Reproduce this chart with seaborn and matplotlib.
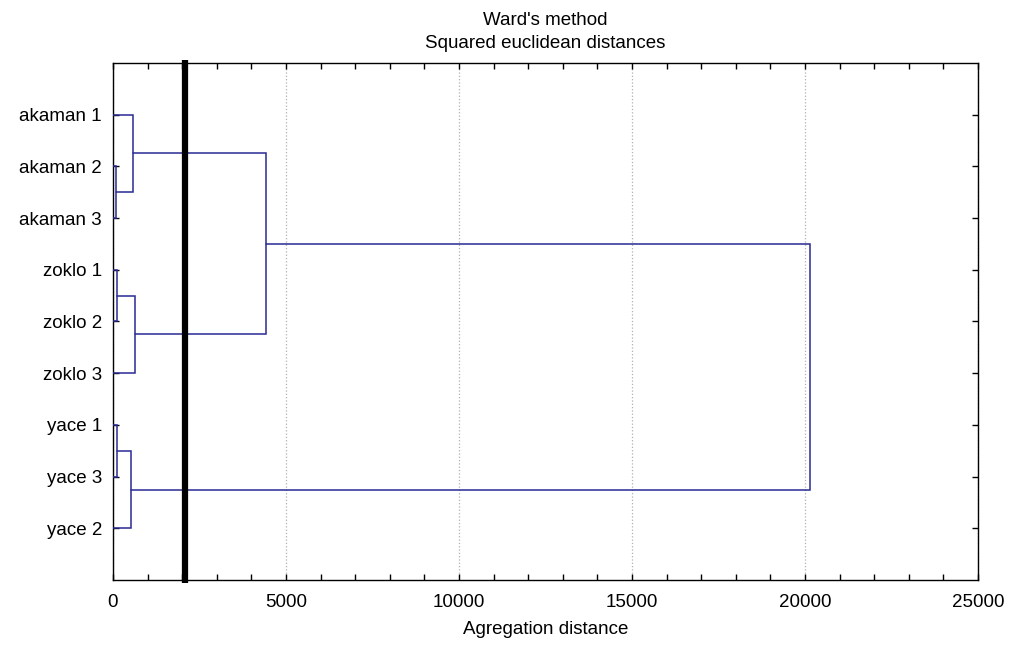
import numpy as np
import matplotlib
matplotlib.use("Agg")
import matplotlib.pyplot as plt
import seaborn as sns

# ---- data ----
leaves = ["akaman 1", "akaman 2", "akaman 3", "zoklo 1", "zoklo 2",
          "zoklo 3", "yace 1", "yace 3", "yace 2"]
# merges: (left node, right node, distance); nodes 0..8 are leaves in order, 9+ are clusters
merge_left = [1, 0, 3, 11, 10, 6, 14, 13]
merge_right = [2, 9, 4, 5, 12, 7, 8, 15]
merge_dist = [90, 590, 125, 640, 4410, 125, 510, 20150]
cut_distance = 2080
x_ticks = [0, 5000, 10000, 15000, 20000, 25000]

sns.set_style("white")
plt.rcParams['font.family'] = ['Liberation Sans', 'DejaVu Sans']
plt.rcParams['text.color'] = 'black'
plt.rcParams['axes.labelcolor'] = 'black'
plt.rcParams['xtick.color'] = 'black'
plt.rcParams['ytick.color'] = 'black'

fig = plt.figure(figsize=(10.18, 6.47), dpi=100)
ax = fig.add_axes([0.111, 0.1036, 0.8497, 0.799])

line_color = "#2a2a96"
n = len(leaves)
pos = {i: i + 1 for i in range(n)}
height = {i: 0.0 for i in range(n)}
for k, (a, b, d) in enumerate(zip(merge_left, merge_right, merge_dist)):
    ya, yb = pos[a], pos[b]
    xa, xb = height[a], height[b]
    ax.plot([xa, d, d, xb], [ya, ya, yb, yb], color=line_color, lw=1.1,
            solid_joinstyle="miter", zorder=3)
    node = n + k
    pos[node] = (ya + yb) / 2
    height[node] = d

ax.axvline(cut_distance, color="black", lw=4.5, zorder=4, ymin=-0.005, ymax=1.005,
           clip_on=False, solid_capstyle="butt")

fs = 13.5
ax.set_xlim(0, 25000)
ax.set_ylim(n + 1, 0)
ax.set_xticks(x_ticks)
ax.set_xticklabels([str(t) for t in x_ticks], fontsize=fs)
ax.set_xticks(np.arange(0, 25001, 1000), minor=True)
ax.set_yticks(range(1, n + 1))
ax.set_yticklabels(leaves, fontsize=fs)
ax.tick_params(axis="both", which="both", direction="in", top=True, right=True,
               bottom=True, left=True, length=4, width=1, color="black")
ax.tick_params(axis="x", which="major", pad=10)
ax.tick_params(axis="y", which="major", pad=8)
ax.xaxis.grid(True, which="major", linestyle=":", color="#b0b0b0", lw=0.9)
ax.set_axisbelow(True)
for s in ax.spines.values():
    s.set_color("black")
    s.set_linewidth(1.0)

ax.set_xlabel("Agregation distance", fontsize=fs, labelpad=7)
ax.set_title("Ward's method\nSquared euclidean distances", fontsize=fs, pad=11, linespacing=1.45)

fig.savefig("out.png", dpi=100, facecolor="white")
